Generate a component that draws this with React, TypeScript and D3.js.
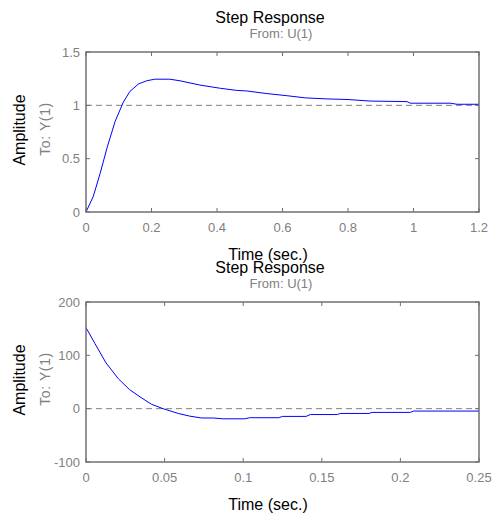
import React from "react";
import * as d3 from "d3";

// Top plot data (Step Response, time in sec.)
const topTime = [0, 0.022, 0.043, 0.065, 0.089, 0.114, 0.134, 0.16, 0.185, 0.21, 0.256, 0.287, 0.348, 0.41, 0.46, 0.49, 0.553, 0.614, 0.67, 0.736, 0.797, 0.868, 0.98, 0.99, 1.112, 1.133, 1.2];
const topAmp = [0, 0.144, 0.36, 0.61, 0.85, 1.03, 1.13, 1.2, 1.23, 1.245, 1.245, 1.23, 1.19, 1.16, 1.14, 1.135, 1.11, 1.09, 1.07, 1.06, 1.055, 1.04, 1.035, 1.02, 1.02, 1.01, 1.01];
const topXTicks = [0, 0.2, 0.4, 0.6, 0.8, 1, 1.2];
const topYTicks = [0, 0.5, 1, 1.5];

// Bottom plot data
const botTime = [0, 0.0057, 0.0127, 0.0206, 0.0276, 0.0344, 0.0418, 0.049, 0.0587, 0.066, 0.0736, 0.081, 0.087, 0.101, 0.104, 0.1226, 0.125, 0.14, 0.1427, 0.16, 0.1617, 0.18, 0.182, 0.2063, 0.2084, 0.25];
const botAmp = [152, 122, 86, 56, 36, 22, 8, 0, -9, -14, -17.5, -17.5, -19, -19, -17, -17, -14.5, -14.5, -11, -11, -9, -9, -7, -7, -4.5, -4.5];
const botXTicks = [0, 0.05, 0.1, 0.15, 0.2, 0.25];
const botYTicks = [-100, 0, 100, 200];

const FONT = "'Liberation Sans', Arial, sans-serif";
const GRAY = "#808080";
const AXIS = "#707070";

type PanelProps = {
  top: number;
  time: number[];
  amp: number[];
  xDomain: [number, number];
  yDomain: [number, number];
  xTicks: number[];
  yTicks: number[];
  finalValue: number;
};

const LEFT = 86;
const RIGHT = 479;
const H = 160;

function Panel({ top, time, amp, xDomain, yDomain, xTicks, yTicks, finalValue }: PanelProps) {
  const x = d3.scaleLinear().domain(xDomain).range([LEFT, RIGHT]);
  const y = d3.scaleLinear().domain(yDomain).range([top + H, top]);
  const pts: [number, number][] = time.map((t, i) => [t, amp[i]]);
  const line = d3
    .line<[number, number]>()
    .x((d) => x(d[0]))
    .y((d) => y(d[1]));
  const tl = 4;
  const bottom = top + H;
  const cx = 270;
  return (
    <g>
      <text x={cx} y={top - 29} textAnchor="middle" fontSize={16} fill="#000" fontFamily={FONT}>
        Step Response
      </text>
      <text x={281} y={top - 14} textAnchor="middle" fontSize={13} fill={GRAY} fontFamily={FONT}>
        From: U(1)
      </text>
      <text
        transform={`translate(25,${top + H / 2 - 2}) rotate(-90)`}
        textAnchor="middle"
        fontSize={16}
        fill="#000"
        fontFamily={FONT}
      >
        Amplitude
      </text>
      <text
        transform={`translate(50,${top + H / 2 - 3}) rotate(-90)`}
        textAnchor="middle"
        fontSize={14}
        letterSpacing={0.6}
        fill={GRAY}
        fontFamily={FONT}
      >
        To: Y(1)
      </text>
      <text x={268} y={bottom + 48} textAnchor="middle" fontSize={16} fill="#000" fontFamily={FONT}>
        Time (sec.)
      </text>
      {/* steady-state dashed line */}
      <line
        x1={LEFT}
        x2={RIGHT}
        y1={y(finalValue)}
        y2={y(finalValue)}
        stroke={GRAY}
        strokeWidth={1}
        strokeDasharray="6,4"
      />
      {/* ticks */}
      {xTicks.map((t) => (
        <g key={"x" + t}>
          <line x1={x(t)} x2={x(t)} y1={bottom} y2={bottom - tl} stroke={AXIS} strokeWidth={1} />
          <line x1={x(t)} x2={x(t)} y1={top} y2={top + tl} stroke={AXIS} strokeWidth={1} />
          <text x={x(t)} y={bottom + 20} textAnchor="middle" fontSize={13} fill={GRAY} fontFamily={FONT}>
            {String(t)}
          </text>
        </g>
      ))}
      {yTicks.map((v) => (
        <g key={"y" + v}>
          <line x1={LEFT} x2={LEFT + tl} y1={y(v)} y2={y(v)} stroke={AXIS} strokeWidth={1} />
          <line x1={RIGHT} x2={RIGHT - tl} y1={y(v)} y2={y(v)} stroke={AXIS} strokeWidth={1} />
          <text x={80} y={y(v) + 4.5} textAnchor="end" fontSize={13} fill={GRAY} fontFamily={FONT}>
            {String(v)}
          </text>
        </g>
      ))}
      <path d={line(pts) || ""} fill="none" stroke="#0000ff" strokeWidth={1} />
      <rect x={LEFT} y={top} width={RIGHT - LEFT} height={H} fill="none" stroke={AXIS} strokeWidth={1.5} />
    </g>
  );
}

export default function App() {
  return (
    <svg
      width={497}
      height={517}
      style={{ position: "absolute", left: 0, top: 0, background: "#fff" }}
    >
      <rect width={497} height={517} fill="#fff" />
      <Panel
        top={52}
        time={topTime}
        amp={topAmp}
        xDomain={[0, 1.2]}
        yDomain={[0, 1.5]}
        xTicks={topXTicks}
        yTicks={topYTicks}
        finalValue={1}
      />
      <Panel
        top={302}
        time={botTime}
        amp={botAmp}
        xDomain={[0, 0.25]}
        yDomain={[-100, 200]}
        xTicks={botXTicks}
        yTicks={botYTicks}
        finalValue={0}
      />
    </svg>
  );
}
